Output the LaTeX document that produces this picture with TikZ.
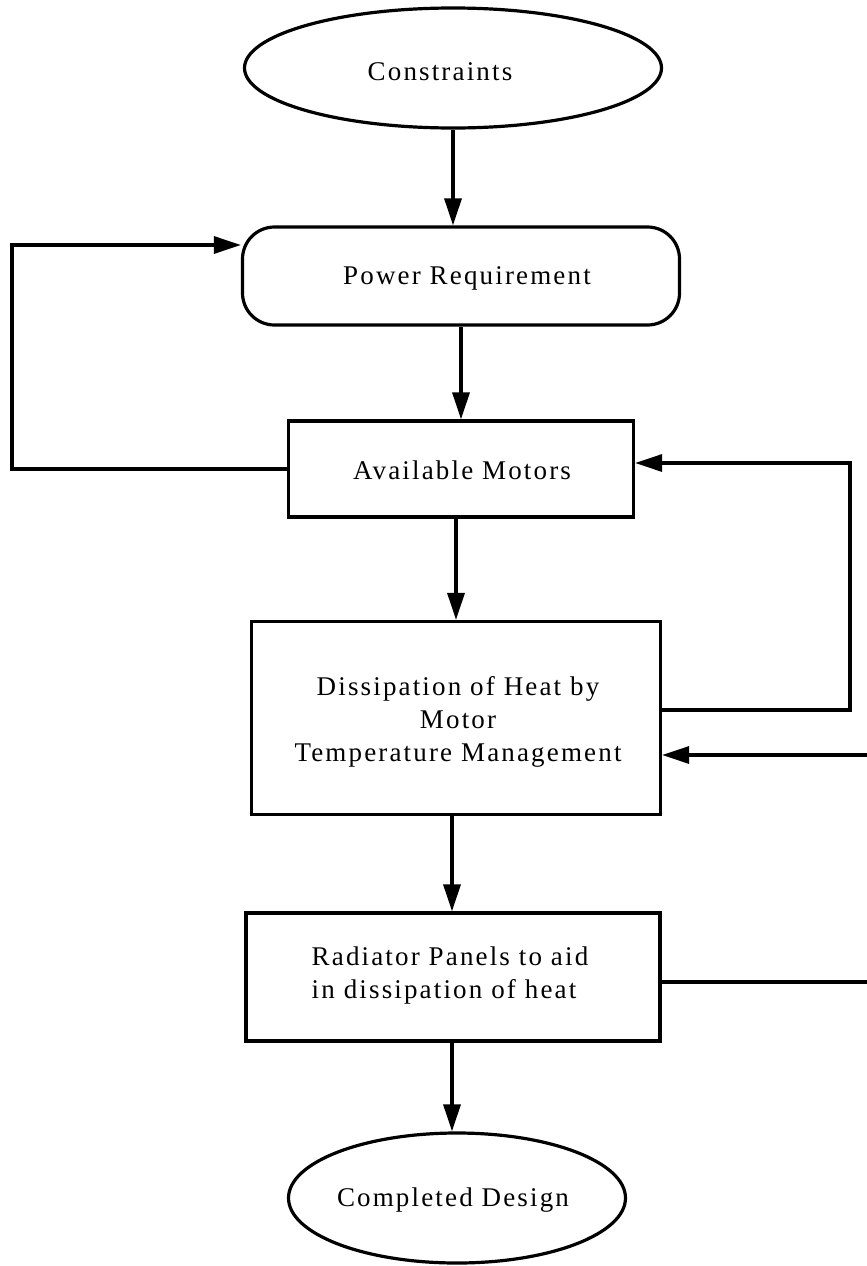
\documentclass[tikz,border=0pt]{standalone}
\usepackage{fontspec}
\setmainfont[LetterSpace=8]{Liberation Serif}
\usetikzlibrary{arrows.meta,shapes.geometric,calc}
\begin{document}
\begin{tikzpicture}[x=1pt,y=-1pt,
  every node/.style={font=\fontsize{27}{33}\selectfont},
  boxnode/.style={draw,line width=3.2pt,inner sep=0pt,align=center},
  ovalnode/.style={draw,ellipse,line width=3.2pt,inner sep=0pt},
  conn/.style={line width=3.2pt},
  arr/.style={conn,-{Triangle[length=27pt,width=17pt]}}]
\useasboundingbox (0,0) rectangle (867,1266);
\node[ovalnode,minimum width=417pt,minimum height=120pt] (cons) at (453,68) {};
\node (constxt) at (440,72) {Constraints};
\node[boxnode,rounded corners=32pt,minimum width=437pt,minimum height=98pt] (power) at (461,276) {};
\node (powertxt) at (467,278) {Power Requirement};
\node[boxnode,minimum width=345pt,minimum height=96pt] (avail) at (461,469) {};
\node (availtxt) at (462,470) {Available Motors};
\node[boxnode,minimum width=409pt,minimum height=193pt] (diss) at (456,718) {};
\node[align=center] (disstxt) at (458,722) {Dissipation of Heat by\\Motor\\ Temperature Management};
\node[boxnode,minimum width=414pt,minimum height=128pt] (rad) at (453,977) {};
\node[align=left] (radtxt) at (450,975) {Radiator Panels to aid\\in dissipation of heat};
\node[ovalnode,minimum width=337pt,minimum height=130pt] (done) at (457,1198) {};
\node (donetxt) at (453,1200) {Completed Design};
\coordinate (lft) at (12,469);
\coordinate (rt1) at (850,710);
\coordinate (rt2) at (850,463);
\coordinate (in2) at (867,755);
\coordinate (out2) at (867,982);
\draw[arr] (cons.south) -- (cons.south |- power.north);
\draw[arr] (power.south -| avail.north) -- (avail.north);
\draw[arr] (avail.south -| 456,0) -- (456,0 |- diss.north);
\draw[arr] (diss.south -| 452,0) -- (452,0 |- rad.north);
\draw[arr] (rad.south -| 452,0) -- (452,0 |- done.north);
\draw[arr] (avail.west) -- (lft) |- ([yshift=31pt]power.west);
\draw[arr] ([yshift=8pt]diss.east) -- (rt1) -- (rt2) -- (avail.east |- rt2);
\draw[arr] (in2) -- (diss.east |- in2);
\draw[conn] (rad.east |- out2) -- (out2);
\end{tikzpicture}
\end{document}
